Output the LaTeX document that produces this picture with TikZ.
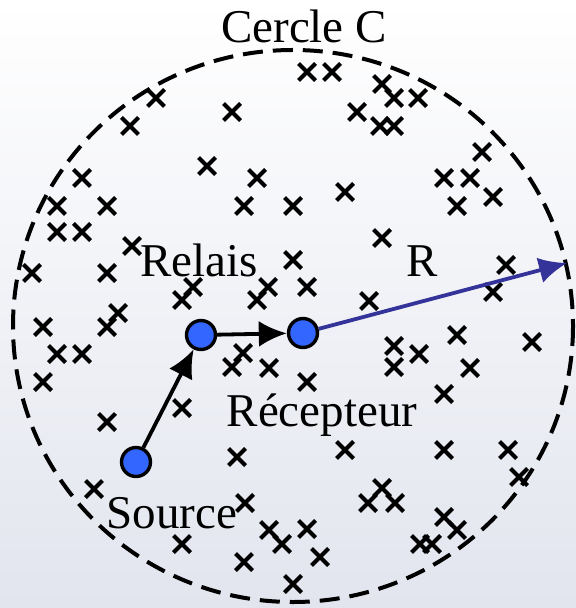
\documentclass[tikz,border=0pt]{standalone}
\usepackage{fontspec}
\setmainfont{Liberation Serif}
\usetikzlibrary{arrows.meta,shapes.misc}
\definecolor{fondbas}{RGB}{226,229,238}
\definecolor{bleunoeud}{RGB}{51,102,255}
\definecolor{bleurayon}{RGB}{51,51,153}
\begin{document}
\begin{tikzpicture}[x=0.5pt, y=-0.5pt,
    noeud/.style={circle, draw, line width=1.7pt, fill=bleunoeud, minimum size=14.5pt, inner sep=0pt},
    croix/.style={cross out, draw, line width=2pt, minimum size=6.5pt, inner sep=0pt},
    texte/.style={font=\fontsize{23.5}{28}\selectfont, anchor=base, inner sep=0pt},
    fleche/.style={-{Latex[length=14pt, width=13pt]}, line width=1.9pt}]
  % fond
  \shade[top color=white, bottom color=fondbas] (0,0) rectangle (576,608);
  \useasboundingbox (0,0) rectangle (576,608);
  \draw[line width=2pt, dash pattern=on 10pt off 5pt] (293,326) ellipse (280 and 276);
  \node[texte] (cercle) at (304,43) {Cercle C};
  % points
  \foreach \x/\y in {156/98, 130/126, 232/112, 207/166, 82/178, 257/178, 57/206, 107/206,
      244/206, 293/206, 57/232, 82/232, 307/72, 332/72, 382/84, 394/98, 418/98, 357/112,
      380/126, 394/126, 482/152, 444/178, 470/178, 493/197, 457/206, 345/192, 382/238,
      132/246, 32/273, 107/273, 293/260, 193/287, 182/300, 268/287, 257/300, 118/313,
      107/327, 43/327, 57/354, 82/354, 43/382, 243/353, 232/367, 269/368, 182/408,
      307/287, 369/301, 506/265, 493/292, 457/335, 532/342, 394/346, 394/367, 419/354,
      470/368, 307/382, 444/394, 107/422, 237/457, 94/489, 245/503, 269/530, 282/544,
      182/544, 244/562, 293/584, 345/450, 444/450, 508/450, 519/477, 382/488, 368/503,
      395/503, 444/517, 457/530, 420/544, 432/544, 307/529, 320/557}
    \node[croix] at (\x,\y) {};
  % noeuds
  \node[noeud] (source) at (136,462) {};
  \node[noeud] (relais) at (201,335) {};
  \node[noeud] (recepteur) at (303,333) {};
  \coordinate (bord) at (567,263);
  \draw[fleche] (source) -- (relais);
  \draw[fleche] (relais) -- (recepteur);
  \draw[fleche, bleurayon] (recepteur) -- (bord);
  \node[texte] (lrelais) at (199,277) {Relais};
  \node[texte] (lrayon) at (422,277) {R};
  \node[texte] (lrecepteur) at (322,426) {Récepteur};
  \node[texte] (lsource) at (172,528) {Source};
\end{tikzpicture}
\end{document}
